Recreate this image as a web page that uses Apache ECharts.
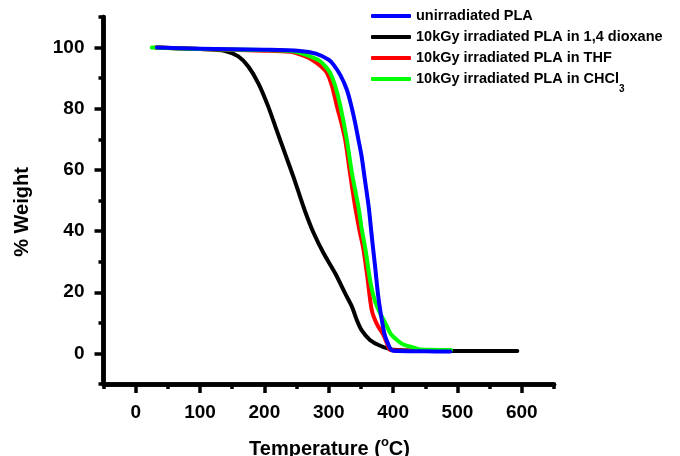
<!DOCTYPE html>
<html>
<head>
<meta charset="utf-8">
<script src="https://cdn.jsdelivr.net/npm/echarts@6/dist/echarts.min.js"></script>
<style>html,body{margin:0;padding:0;background:#fff}#c{width:680px;height:456px}</style>
</head>
<body>
<div id="c"></div>
<script>
var seriesNames = ['unirradiated PLA', '10kGy irradiated PLA in 1,4 dioxane', '10kGy irradiated PLA in THF', '10kGy irradiated PLA in CHCl3'];
var seriesColors = ['#0000ff', '#000000', '#ff0000', '#00ff00'];

var unirrT = [33,100,200,255,280,300,307,318,328,335,341,346,351,356,362,367,372,377,382,387,392,396,400,450,489];
var unirrW = [100,99.6,99.3,98.9,98,96,94.5,91,86.3,81,75.4,70,64.5,57,48,38,28.4,18.5,11.5,6,3.2,1.5,0.9,0.7,0.6];

var dioxT = [33,100,139,159.5,175,190.6,206,219,232,245,255.5,264,276,291.6,310,325.5,336,343.6,351,364,380,400,450,500,593];
var dioxW = [100,99.5,98.9,97.1,93.8,88.3,80.7,73,65.4,57.8,51.2,46,39.6,32.9,26.2,19.6,15.3,10.9,7.6,4.4,2.5,1.2,0.9,0.8,0.8];

var thfT = [30,100,200,240,255,270,281,290,297,305,312.6,320,325.5,333,341,348,354,360,367,375,385,390,396,420,480];
var thfW = [100,99.5,99,98.6,97.8,96.5,95,93.5,91.8,87.5,80.9,75,70,59,48,40,33.9,25,14,9.5,6,3.5,1.1,0.9,0.8];

var chclT = [25,100,200,240,255,270,285,295,302,310,318,328,336,346,351,357,365,372,380,388,396,406,415,427,440,460,490];
var chclW = [100,99.5,99.2,98.9,98.3,97.2,95.8,93.8,91.8,87.5,80.9,70,59,48,41,34,23,17,13,9.9,6.5,4.4,3,2.2,1.4,1.2,1.1];

var xMajorTicks = [0,100,200,300,400,500,600];
var xMinorTicks = [-50,50,150,250,350,450,550,650];
var yMajorTicks = [0,20,40,60,80,100];
var yMinorTicks = [-10,10,30,50,70,90,110];

function pairs(t, w) { return t.map(function (v, i) { return [v, w[i]]; }); }

var FONT = '"Liberation Sans", Arial, sans-serif';
var chart = echarts.init(document.getElementById('c'), null, {renderer: 'canvas'});

var axisLineStyle = {color: '#000', width: 4.5};
function xAxisDef(ticks, len, labels) {
  return {
    type: 'value', min: -50, max: 650, position: 'bottom', offset: 0,
    axisLine: {show: true, onZero: false, lineStyle: axisLineStyle},
    axisTick: {show: true, length: len, customValues: ticks, lineStyle: {color: '#000', width: 3.5}},
    axisLabel: labels ? {show: true, customValues: ticks, margin: 19, color: '#000', fontWeight: 'bold', fontSize: 19, fontFamily: FONT} : {show: false},
    splitLine: {show: false}
  };
}
function yAxisDef(ticks, len, labels) {
  return {
    type: 'value', min: -10, max: 110, position: 'left', offset: 0,
    axisLine: {show: true, onZero: false, lineStyle: axisLineStyle},
    axisTick: {show: true, length: len, customValues: ticks, lineStyle: {color: '#000', width: 3.5}},
    axisLabel: labels ? {show: true, customValues: ticks, margin: 19, color: '#000', fontWeight: 'bold', fontSize: 19, fontFamily: FONT} : {show: false},
    splitLine: {show: false}
  };
}

function mkSeries(idx, t, w) {
  return {
    name: seriesNames[idx], type: 'line', xAxisIndex: 0, yAxisIndex: 0,
    data: pairs(t, w), showSymbol: false, symbol: 'none',
    smooth: 0.3,
    lineStyle: {color: seriesColors[idx], width: 4, cap: 'round', join: 'round'},
    itemStyle: {color: seriesColors[idx]},
    animation: false
  };
}

var option = {
  animation: false,
  backgroundColor: '#fff',
  grid: {left: 103.5, right: 126, top: 17, bottom: 72, containLabel: false},
  xAxis: [xAxisDef(xMajorTicks, 9, true), xAxisDef(xMinorTicks, 5, false)],
  yAxis: [yAxisDef(yMajorTicks, 9, true), yAxisDef(yMinorTicks, 5, false)],
  legend: {
    orient: 'vertical', left: 371, top: 1, padding: 0,
    itemWidth: 40, itemHeight: 4, itemGap: -9, icon: 'roundRect',
    data: seriesNames,
    formatter: function (n) {
      if (n.indexOf('CHCl3') >= 0) return '{n|' + n.replace('CHCl3', 'CHCl') + '}{sub|3}';
      return '{n|' + n + '}';
    },
    textStyle: {
      color: '#000', fontWeight: 'bold', fontSize: 14.5, fontFamily: FONT, lineHeight: 30,
      rich: {
        n: {color: '#000', fontWeight: 'bold', fontSize: 14.5, fontFamily: FONT, lineHeight: 30},
        sub: {color: '#000', fontWeight: 'bold', fontSize: 10, fontFamily: FONT, lineHeight: 10, padding: [20, 0, 0, 0]}
      }
    }
  },
  graphic: [
    {
      type: 'text', x: 329.5, y: 449,
      style: {
        text: '{n|Temperature (}{sup|o}{n|C)}',
        align: 'center', verticalAlign: 'middle',
        rich: {
          n: {fill: '#000', fontWeight: 'bold', fontSize: 20, fontFamily: FONT, lineHeight: 22},
          sup: {fill: '#000', fontWeight: 'bold', fontSize: 13, fontFamily: FONT, lineHeight: 13, padding: [0, 0, 14, 0]}
        }
      }
    },
    {
      type: 'text', x: 22.5, y: 212, rotation: Math.PI / 2,
      style: {
        text: '% Weight', fill: '#000', align: 'center', verticalAlign: 'middle',
        fontWeight: 'bold', fontSize: 20, fontFamily: FONT
      }
    }
  ],
  series: [
    mkSeries(1, dioxT, dioxW),
    mkSeries(2, thfT, thfW),
    mkSeries(3, chclT, chclW),
    mkSeries(0, unirrT, unirrW)
  ]
};
chart.setOption(option);
</script>
</body>
</html>
